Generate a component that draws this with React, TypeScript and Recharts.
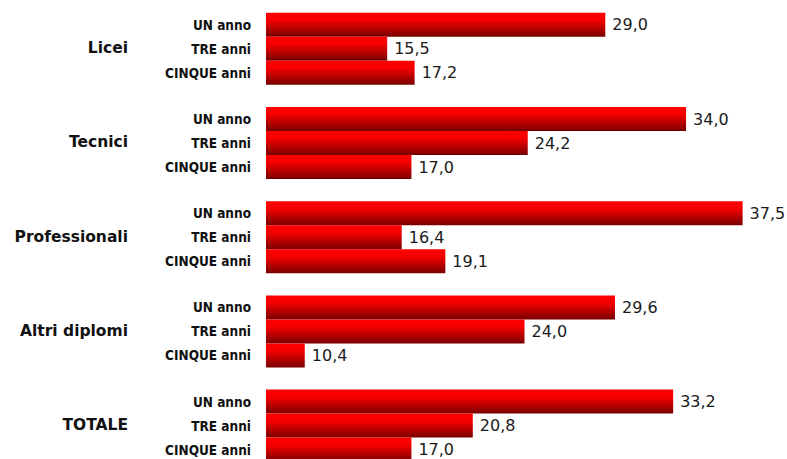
import { Bar, BarChart, LabelList, XAxis, YAxis } from 'recharts'

const categories = ['Licei', 'Tecnici', 'Professionali', 'Altri diplomi', 'TOTALE']
const seriesNames = ['UN anno', 'TRE anni', 'CINQUE anni']
const unAnno = [29.0, 34.0, 37.5, 29.6, 33.2]
const treAnni = [15.5, 24.2, 16.4, 24.0, 20.8]
const cinqueAnni = [17.2, 17.0, 19.1, 10.4, 17.0]

const data = categories.map((name, i) => ({
  name,
  un: unAnno[i],
  tre: treAnni[i],
  cinque: cinqueAnni[i],
}))

const fmt = (v: any) => Number(v).toFixed(1).replace('.', ',')

const seriesLabel = (text: string) => (props: any) => {
  const { x, y, height } = props
  return (
    <text
      x={Number(x) - 15}
      y={Number(y) + Number(height) / 2}
      textAnchor="end"
      dominantBaseline="central"
      fontFamily="'DejaVu Sans Condensed', 'DejaVu Sans', sans-serif"
      fontStretch="condensed"
      fontWeight="bold"
      fontSize={13.5}
      fill="#111"
    >
      {text}
    </text>
  )
}

const CategoryTick = (props: any) => {
  const { x, y, payload } = props
  return (
    <text
      x={Number(x) - 130}
      y={y}
      textAnchor="end"
      dominantBaseline="central"
      fontFamily="'DejaVu Sans', sans-serif"
      fontWeight="bold"
      fontSize={15.5}
      fill="#111"
    >
      {payload.value}
    </text>
  )
}

const keys = ['un', 'tre', 'cinque']

export default function App() {
  return (
    <div style={{ position: 'absolute', left: 0, top: 0 }}>
      <BarChart
        width={787}
        height={472}
        data={data}
        layout="vertical"
        margin={{ top: 1, right: 4, bottom: 0, left: 0 }}
        barCategoryGap="12.5%"
        barGap={0}
      >
        <defs>
          <linearGradient id="redFill" x1="0" y1="0" x2="0" y2="1">
            <stop offset="0%" stopColor="#ff0000" />
            <stop offset="30%" stopColor="#f80000" />
            <stop offset="100%" stopColor="#780000" />
          </linearGradient>
        </defs>
        <XAxis type="number" domain={[8, 40]} hide />
        <YAxis
          type="category"
          dataKey="name"
          width={266}
          axisLine={false}
          tickLine={false}
          tick={<CategoryTick />}
        />
        {keys.map((k, i) => (
          <Bar key={k} dataKey={k} fill="url(#redFill)" isAnimationActive={false}>
            <LabelList
              dataKey={k}
              position="right"
              offset={7}
              formatter={fmt}
              fontFamily="'DejaVu Sans', sans-serif"
              fontSize={16}
              fill="#1a1a1a"
            />
            <LabelList dataKey={k} content={seriesLabel(seriesNames[i])} />
          </Bar>
        ))}
      </BarChart>
    </div>
  )
}
